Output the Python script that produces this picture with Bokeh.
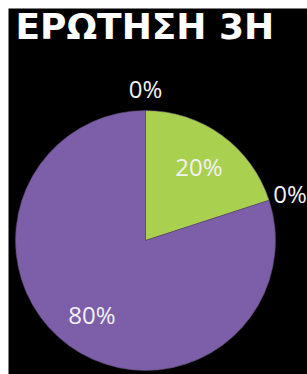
import math
from bokeh.plotting import figure
from bokeh.models import ColumnDataSource
from bokeh.core.properties import value
from bokeh.embed import file_html
from bokeh.resources import INLINE

# Data
categories = ["A", "B", "C", "D"]
percents = [0, 20, 0, 80]
colors = ["#4f81bd", "#a9d04f", "#c0504d", "#7c5ea9"]
title_text = "ΕΡΩΤΗΣΗ 3Η"

W, H = 299, 366
p = figure(width=307, height=374, x_range=(0, W), y_range=(0, H),
           output_backend="svg", toolbar_location=None,
           background_fill_color="black", border_fill_color="white",
           min_border_left=8, min_border_top=8, min_border_right=0,
           min_border_bottom=0, outline_line_color=None)
p.axis.visible = False
p.grid.visible = False

cx, cy, r = 137, 134, 130

total = sum(percents)
starts, ends = [], []
a = math.pi / 2
for v in percents:
    e = a - v / total * 2 * math.pi
    starts.append(e)
    ends.append(a)
    a = e

nz = [i for i, v in enumerate(percents) if v > 0]
src = ColumnDataSource(dict(start=[starts[i] for i in nz], end=[ends[i] for i in nz],
                            color=[colors[i] for i in nz]))
p.wedge(x=cx, y=cy, radius=r, start_angle="start", end_angle="end",
        fill_color="color", line_color="#5a4a6a", line_width=0.6, source=src)

lx, ly, lt = [], [], []
for v, s, e in zip(percents, starts, ends):
    mid = (s + e) / 2
    rr = 1.17 * r if v == 0 else 0.7 * r
    lx.append(cx + rr * math.cos(mid))
    ly.append(cy + rr * math.sin(mid))
    lt.append(f"{v}%")
p.text(x=lx, y=ly, text=lt, text_color="#f2f2f2", text_font=value("Open Sans"),
       text_font_size="24px", text_align="center", text_baseline="middle")

p.text(x=[7], y=[H - 18], text=[title_text], text_color="white",
       text_font=value("DejaVu Sans"), text_font_style="bold",
       text_font_size="36px", text_baseline="alphabetic", text_align="left")

open("out.html", "w").write(file_html(p, INLINE))
